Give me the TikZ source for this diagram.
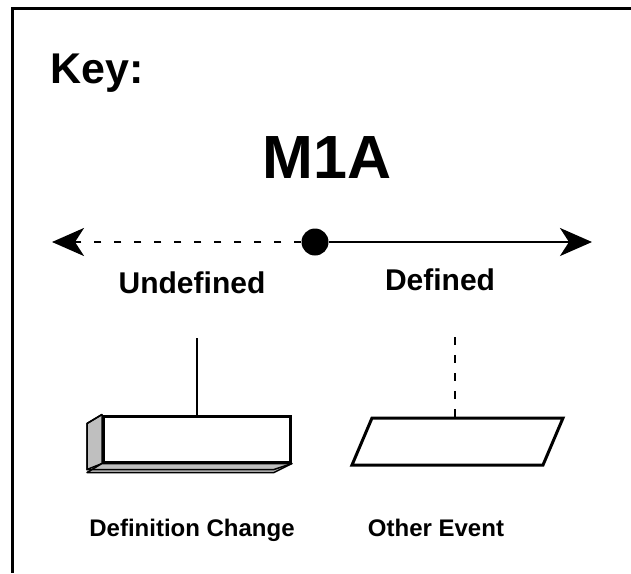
\documentclass[tikz,border=0pt]{standalone}
\usepackage{fontspec}
\setmainfont{Liberation Sans}
\usepackage{xcolor}
\usetikzlibrary{arrows.meta}

\tikzset{
  keytxt/.style={font=\bfseries\fontsize{#1}{#1}\selectfont, inner sep=0pt},
  bigtip/.style={-{Stealth[length=32pt,width=28pt,inset=9pt]}},
  shade/.style={fill=black!25, draw=black, line width=1.5pt, line join=round}
}

\begin{document}
\begin{tikzpicture}[x=1pt,y=-1pt]
  \useasboundingbox (0,0) rectangle (631,573);
  % frame, open at right and bottom
  \draw[line width=3pt] (631,8) -- (12,8) -- (12,573);

  \node (key) [keytxt=43, anchor=base west] at (50,83) {Key:};
  \node (title) [keytxt=61, anchor=base] at (327,178) {M1A};

  % time line
  \node (dot) [circle, fill=black, minimum size=27pt, inner sep=0pt] at (315,242) {};
  \coordinate (lft) at (52,242);
  \coordinate (rgt) at (592,242);
  \draw[bigtip, line width=2.5pt, dash pattern=on 7pt off 13pt] (dot) -- (lft);
  \draw[bigtip, line width=2.5pt] (dot) -- (rgt);
  \node (undef) [keytxt=30] at (192,283) {Undefined};
  \node (def) [keytxt=30] at (440,280) {Defined};

  % definition change box
  \node (chg) [draw, line width=3pt, minimum width=187pt, minimum height=46pt, inner sep=0pt] at (197,439) {};
  \fill[shade] (chg.north west) -- ++(-15,9) -- ++(0,46) -- (chg.south west) -- cycle;
  \fill[shade] (chg.south west) -- ++(-15,9) -- ++(187,0) -- (chg.south east) -- cycle;
  \draw[line width=1.5pt] (chg.north west) -- ++(-15,9) -- ++(0,46) -- ++(187,0) -- (chg.south east);
  \coordinate (chgtop) at (chg.north |- 0,338);
  \draw[line width=2.5pt] (chgtop) -- (chg.north);
  \node (chglbl) [keytxt=24, anchor=base] at (192,536) {Definition Change};

  % other event
  \coordinate (oth) at (455,418);
  \draw[line width=3pt, line join=miter] (372,418) -- (563,418) -- (543,465) -- (352,465) -- cycle;
  \coordinate (othtop) at (455,337);
  \draw[line width=2.5pt, dash pattern=on 8pt off 10pt] (othtop) -- (oth);
  \node (othlbl) [keytxt=24, anchor=base] at (436,536) {Other Event};
\end{tikzpicture}
\end{document}
